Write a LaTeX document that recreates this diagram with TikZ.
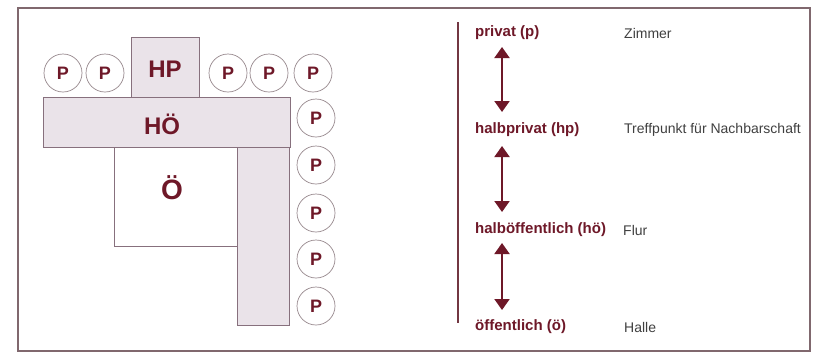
\documentclass[tikz,border=0pt]{standalone}
\usepackage{fontspec}
\setmainfont{Liberation Sans}
\usetikzlibrary{arrows.meta}
\definecolor{dred}{RGB}{110,24,40}
\definecolor{framec}{RGB}{128,104,110}
\definecolor{shade}{RGB}{234,227,233}
\definecolor{rectline}{RGB}{135,112,125}
\definecolor{circline}{RGB}{150,135,140}
\tikzset{
  zone/.style={draw=rectline, line width=0.8pt, fill=shade},
  pcirc/.style={circle, draw=circline, line width=0.7pt, minimum size=38pt, inner sep=0pt,
     text=dred, font=\fontsize{18}{18}\selectfont\bfseries},
  biglabel/.style={text=dred, font=\fontsize{24}{24}\selectfont\bfseries, inner sep=0pt},
  level/.style={anchor=west, inner sep=0pt, text=dred, font=\fontsize{15}{17}\selectfont\bfseries},
  desc/.style={anchor=west, inner sep=0pt, text=black!75, font=\fontsize{14}{16}\selectfont},
  dblarrow/.style={draw=dred, line width=2pt, {Triangle[width=15pt,length=11pt]}-{Triangle[width=15pt,length=11pt]}}
}
\begin{document}
\begin{tikzpicture}[x=1pt,y=-1pt]
\useasboundingbox (0,0) rectangle (816,354);
\fill[white] (0,0) rectangle (816,354);
% frame
\draw[framec, line width=1.2pt] (18,8) rectangle (810,351);
% open area
\draw[rectline, line width=0.8pt, fill=white] (114,147) rectangle (237,246);
% zones
\draw[zone] (131,37) rectangle (199,97);
\draw[zone] (43,97) rectangle (290,147);
\draw[zone] (237,147) rectangle (289,325);
\node[biglabel] (hp) at (165,69) {HP};
\node[biglabel] (hoe) at (162,124) {HÖ};
\node[text=dred, font=\fontsize{28}{28}\selectfont\bfseries, inner sep=0pt] (oe) at (172,188) {Ö};
% private rooms
\node[pcirc] (p1) at (63,73) {P};
\node[pcirc] (p2) at (105,73) {P};
\node[pcirc] (p3) at (228,73) {P};
\node[pcirc] (p4) at (269,73) {P};
\node[pcirc] (p5) at (313,73) {P};
\node[pcirc] (p6) at (316,118) {P};
\node[pcirc] (p7) at (316,165) {P};
\node[pcirc] (p8) at (316,213) {P};
\node[pcirc] (p9) at (316,259) {P};
\node[pcirc] (p10) at (316,306) {P};
% right legend
\coordinate (vt) at (458,22);
\coordinate (vb) at (458,323);
\draw[dred!70!gray, line width=1.6pt] (vt) -- (vb);
\node[level] (l1) at (475,33) {privat (p)};
\node[level] (l2) at (475,130) {halbprivat (hp)};
\node[level] (l3) at (475,230) {halböffentlich (hö)};
\node[level] (l4) at (475,327) {öffentlich (ö)};
\node[desc] (d1) at (624,33) {Zimmer};
\node[desc] (d2) at (624,130) {Treffpunkt für Nachbarschaft};
\node[desc] (d3) at (623,230) {Flur};
\node[desc] (d4) at (624,327) {Halle};
\coordinate (a1t) at (502,47);
\coordinate (a1b) at (502,112);
\coordinate (a2t) at (502,146);
\coordinate (a2b) at (502,212);
\coordinate (a3t) at (502,243);
\coordinate (a3b) at (502,310);
\draw[dblarrow] (a1t) -- (a1b);
\draw[dblarrow] (a2t) -- (a2b);
\draw[dblarrow] (a3t) -- (a3b);
\end{tikzpicture}
\end{document}
